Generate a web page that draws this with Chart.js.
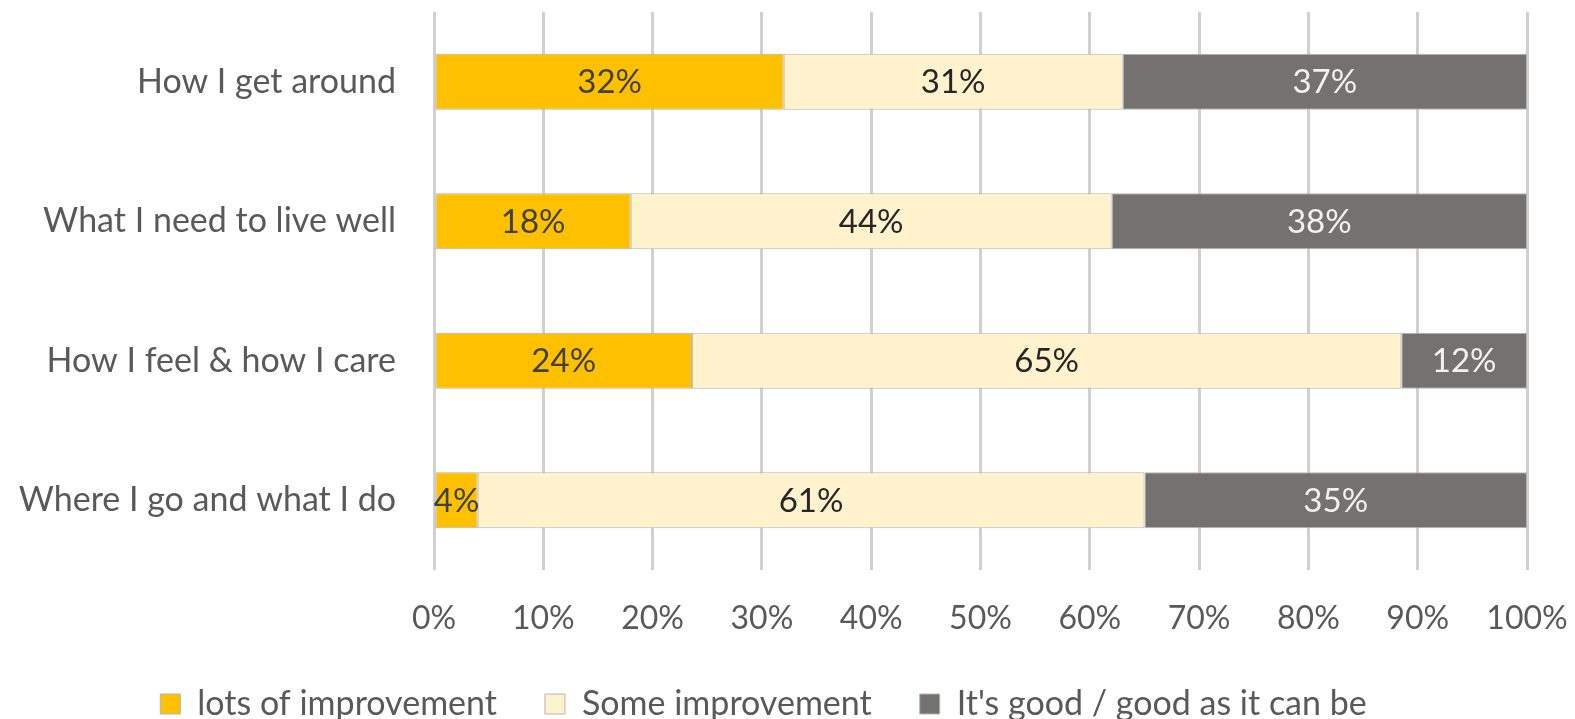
<!DOCTYPE html>
<html>
<head>
<meta charset="utf-8">
<script src="https://cdn.jsdelivr.net/npm/chart.js@4"></script>
<style>
  html, body { margin: 0; padding: 0; overflow: hidden; background: #fff; }
  #wrap { width: 1575px; height: 719px; }
</style>
</head>
<body>
<div id="wrap"><canvas id="chart"></canvas></div>
<script>
// Chart data
const categories = ["How I get around", "What I need to live well", "How I feel & how I care", "Where I go and what I do"];
const lotsOfImprovement = [32, 18, 23.6, 4];
const someImprovement = [31, 44, 64.9, 61];
const goodAsItCanBe = [37, 38, 11.5, 35];
const xTicks = [0, 10, 20, 30, 40, 50, 60, 70, 80, 90, 100];

const FONT = "Lato, 'Open Sans', sans-serif";
const labelColors = ["#404040", "#262626", "#f2f2f2"];

// draws the % labels in the middle of each segment
const barLabels = {
    id: "barLabels",
    afterDatasetsDraw(chart) {
        const ctx = chart.ctx;
        ctx.save();
        ctx.font = "33px " + FONT;
        ctx.textAlign = "center";
        ctx.textBaseline = "middle";
        chart.data.datasets.forEach((ds, i) => {
            chart.getDatasetMeta(i).data.forEach((bar, j) => {
                const p = bar.getProps(["x", "y", "base"], true);
                ctx.fillStyle = labelColors[i];
                ctx.fillText(Math.round(ds.data[j]) + "%", (p.x + p.base) / 2, p.y + 1);
            });
        });
        ctx.restore();
    }
};

// keep the legend's wide item spacing without giving it a tall box
const legendHeight = {
    id: "legendHeight",
    afterInit(chart) {
        const lg = chart.legend;
        const fit = lg.fit;
        lg.fit = function () {
            fit.call(this);
            this.height = 80;
        };
    }
};

const ctx = document.getElementById("chart").getContext("2d");
new Chart(ctx, {
    type: "bar",
    data: {
        labels: categories,
        datasets: [
            { label: "lots of improvement", data: lotsOfImprovement, backgroundColor: "#ffc000" },
            { label: "Some improvement", data: someImprovement, backgroundColor: "#fff2cc" },
            { label: "It's good / good as it can be", data: goodAsItCanBe, backgroundColor: "#767171" }
        ].map(d => Object.assign(d, {
            borderColor: "#b4b4b4",
            borderWidth: 1,
            borderSkipped: false,
            barPercentage: 1,
            categoryPercentage: 0.4
        }))
    },
    options: {
        indexAxis: "y",
        responsive: true,
        maintainAspectRatio: false,
        animation: false,
        layout: { padding: { top: 12, right: 48, left: 0, bottom: 0 } },
        plugins: {
            legend: {
                position: "bottom",
                labels: {
                    boxWidth: 20,
                    boxHeight: 20,
                    padding: 48,
                    color: "#595959",
                    font: { family: FONT, size: 34 }
                }
            },
            tooltip: { enabled: false }
        },
        scales: {
            x: {
                stacked: true,
                min: 0,
                max: 100,
                afterBuildTicks: s => { s.ticks = xTicks.map(v => ({ value: v })); },
                afterFit: s => { s.height = 69; s.paddingLeft = 0; s.paddingRight = 0; },
                grid: { color: "#d0d0d0", lineWidth: 3, drawTicks: false },
                border: { display: false },
                ticks: {
                    padding: 29,
                    color: "#595959",
                    font: { family: FONT, size: 32 },
                    callback: v => v + "%"
                }
            },
            y: {
                stacked: true,
                afterFit: s => { s.width = 434; s.paddingTop = 0; s.paddingBottom = 0; },
                grid: { display: false },
                border: { display: false },
                ticks: {
                    padding: 30,
                    color: "#595959",
                    font: { family: FONT, size: 34 }
                }
            }
        }
    },
    plugins: [barLabels, legendHeight]
});
</script>
</body>
</html>
